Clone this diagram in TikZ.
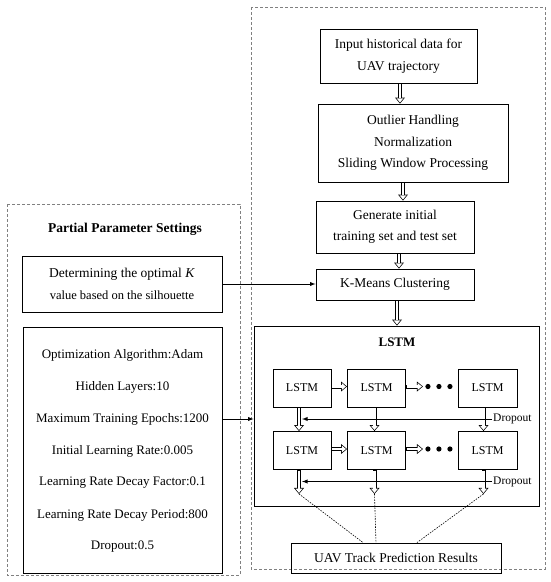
\documentclass[tikz,border=0pt]{standalone}
\usepackage{fontspec}
\setmainfont{Liberation Serif}
\usetikzlibrary{arrows.meta}
\tikzset{>=latex}
\tikzset{
  box/.style={draw, line width=0.9pt, align=center, inner sep=0pt},
  region/.style={draw=gray, line width=0.8pt, dash pattern=on 3pt off 2pt},
  cell/.style={box, minimum width=58pt, minimum height=38pt, font=\fontsize{12}{14}\selectfont},
  harrow/.style={line width=4pt, -{Triangle[length=6pt,width=10pt,line width=0pt]},
    postaction={draw=white, line width=2.6pt, shorten <=0.6pt, shorten >=1.1pt,
      -{Triangle[length=4.2pt,width=7pt,line width=0pt]}}},
  dropline/.style={->, line width=0.9pt},
  guide/.style={line width=0.6pt, dash pattern=on 1.5pt off 1.2pt},
}

\begin{document}
\begin{tikzpicture}[x=1pt,y=-1pt,font=\fontsize{13.5}{21.5}\selectfont]
  \useasboundingbox (0,0) rectangle (550,582);
  % dashed regions
  \draw[region] (251,7) rectangle (545,569);
  \draw[region] (7,204) rectangle (240,575);

  % main flow
  \node[box, minimum width=157pt, minimum height=54pt] (input) at (398.5,56) {Input historical data for\\UAV trajectory};
  \node[box, minimum width=190pt, minimum height=78pt] (outlier) at (413,143) {Outlier Handling\\Normalization\\Sliding Window Processing};
  \node[box, minimum width=158pt, minimum height=52pt] (trainset) at (395,227) {Generate initial\\training set and test set};
  \node[box, minimum width=158pt, minimum height=31pt] (kmeans) at (395,284.5) {K-Means Clustering};
  \node[box, minimum width=285pt, minimum height=180pt] (lstm) at (396.5,416) {};
  \node[font=\bfseries\fontsize{13}{15}\selectfont] (lstmtitle) at (397,342) {LSTM};
  \node[box, minimum width=210pt, minimum height=30pt] (result) at (396,558) {UAV Track Prediction Results};

  \draw[harrow] ([xshift=1.5pt]input.south) -- ([xshift=1.5pt]input.south |- outlier.north);
  \draw[harrow] ([xshift=8pt]trainset.north |- outlier.south) -- ([xshift=8pt]trainset.north);
  \draw[harrow] ([xshift=4pt]trainset.south) -- ([xshift=4pt]kmeans.north);
  \draw[harrow] ([xshift=2pt]kmeans.south) -- ([xshift=2pt]kmeans.south |- lstm.north);

  % LSTM cells
  \foreach \r/\y in {1/388,2/450.5} {
    \node[cell] (c\r1) at (302,\y) {LSTM};
    \node[cell] (c\r2) at (376.5,\y) {LSTM};
    \node[cell, minimum width=59pt] (c\r3) at (487.5,\y) {LSTM};
    \draw[harrow] ([yshift=1.5pt]c\r1.east) -- ([yshift=1.5pt]c\r2.west);
    \draw[harrow] ([yshift=1.5pt]c\r2.east) -- ++(17,0) coordinate (t\r);
    \foreach \d in {5,16,27}
      \fill ([xshift=\d pt]t\r) circle (2.6pt);
  }
  \foreach \c/\s in {1/-3,2/-2,3/-4} {
    \draw[harrow] ([xshift=\s pt]c1\c.south) -- ([xshift=\s pt]c2\c.north);
    \draw[harrow] ([xshift=\s pt]c2\c.south) -- ++(0,24) coordinate (o\c);
  }
  \node[anchor=west, inner sep=1pt, font=\fontsize{11.5}{13}\selectfont] (drop1) at (492,419) {Dropout};
  \node[anchor=west, inner sep=1pt, font=\fontsize{11.5}{13}\selectfont] (drop2) at (492,481.5) {Dropout};
  \draw[dropline] (drop1.west) -- (c11.south |- drop1.west);
  \draw[dropline] (drop2.west) -- (c21.south |- drop2.west);

  % outputs to result
  \draw[guide] (o1) -- ([xshift=-33pt]result.north);
  \draw[guide] (o2) -- ([xshift=-20pt]result.north);
  \draw[guide] (o3) -- ([xshift=21pt]result.north);

  % parameter settings
  \node[font=\bfseries\fontsize{13.5}{16}\selectfont] (settings) at (125,229) {Partial Parameter Settings};
  \node[box, minimum width=200pt, minimum height=56pt] (optk) at (122,284) {Determining the optimal \textit{K}\\{\fontsize{12.5}{15}\selectfont value based on the silhouette}};
  \node[box, minimum width=199pt, minimum height=246pt] (params) at (122.5,450) {};
  \foreach \t [count=\i] in {Optimization Algorithm:Adam, Hidden Layers:10,
      Maximum Training Epochs:1200, Initial Learning Rate:0.005,
      Learning Rate Decay Factor:0.1, Learning Rate Decay Period:800, Dropout:0.5}
    \node[font=\fontsize{13}{15}\selectfont] (p\i) at (122.5,323+32*\i) {\t};

  \draw[->, line width=0.9pt] (optk.east) -- (kmeans.west |- optk.east);
  \draw[->, line width=0.9pt] (params.east |- p3) -- (lstm.west |- p3);
\end{tikzpicture}
\end{document}
